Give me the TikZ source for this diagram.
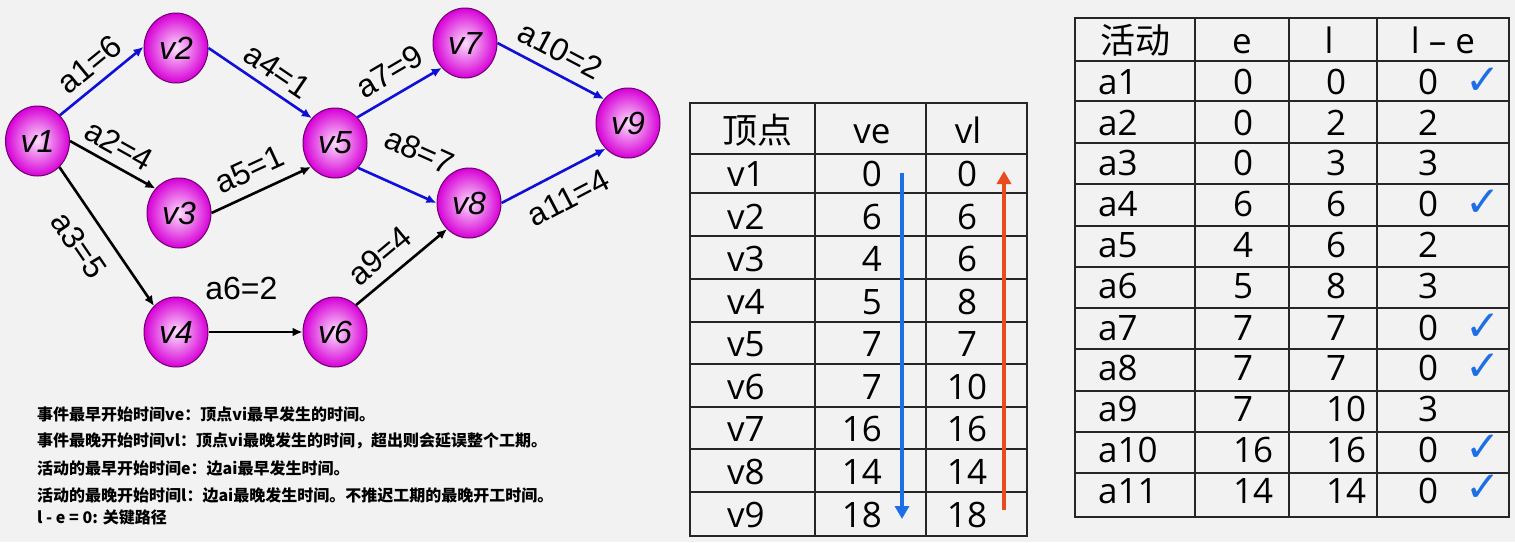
\documentclass[tikz,border=0pt]{standalone}
\usepackage{fontspec}
\setmainfont{Liberation Sans}
\newfontfamily\cjk{Noto Sans CJK SC}
\newfontfamily\tabfont{Open Sans}
\newfontfamily\symfont{DejaVu Sans}
\usetikzlibrary{arrows,arrows.meta,shapes}
\definecolor{paper}{HTML}{F2F2F2}
\definecolor{keyblue}{RGB}{15,15,215}
\definecolor{ballin}{RGB}{252,222,252}
\definecolor{ballout}{RGB}{215,0,215}
\definecolor{ballrim}{RGB}{110,0,110}
\definecolor{downblue}{RGB}{30,110,230}
\definecolor{upred}{RGB}{232,75,30}
\tikzstyle{vertex}=[ellipse,minimum width=64pt,minimum height=70pt,inner sep=0pt,draw=ballrim,line width=1pt,shading=radial,inner color=ballin,outer color=ballout,font=\fontsize{32}{32}\selectfont\itshape]
\tikzstyle{edge} = [draw,line width=2.6pt,-{Latex[length=10pt,width=9pt]},black]
\tikzstyle{critical edge} = [edge,keyblue]
\tikzstyle{weight} = [sloped,inner sep=0pt,text=black,font=\fontsize{32}{32}\selectfont]
\tikzstyle{note} = [anchor=west,inner sep=0pt,font=\cjk\bfseries\fontsize{16}{16}\selectfont]
\tikzstyle{rule} = [draw=black!85,line width=1.8pt,line cap=rect]
\tikzstyle{cell} = [inner sep=0pt,font=\tabfont\fontsize{35}{35}\selectfont]
\tikzstyle{check} = [inner sep=0pt,text=downblue,font=\symfont\fontsize{42}{42}\selectfont]
\tikzstyle{sweep} = [line width=3.8pt,-{Triangle[length=13pt,width=14pt]}]

\begin{document}
\begin{tikzpicture}[x=1pt,y=-1pt]
    \fill[paper] (0,0) rectangle (1515,542);
    \useasboundingbox (0,0) rectangle (1515,542);

    % event network
    \foreach \pos/\name in {{(37.5,141)/v1}, {(176,48)/v2}, {(179,213)/v3},
                            {(176,332)/v4}, {(335,143)/v5}, {(335,332)/v6},
                            {(465,43)/v7}, {(469,203)/v8}, {(628,123)/v9}}
        \node[vertex] (\name) at \pos {\name};

    \foreach \source/\dest/\kind/\pos/\side/\dist/\weight in {
            v1.49/v2.178/critical edge/0.51/above/8/a1=6,
            v2.east/v5.133/critical edge/0.56/above/7/a4=1,
            v1.east/v3.134/edge/0.46/above/7.5/a2=4,
            v1.-50/v4.130/edge/0.45/below/15/a3=5,
            v3.east/v5.225/edge/0.48/above/11/a5=1,
            v4.east/v6.west/edge/0.35/above/31/a6=2,
            v5.49/v7.227/critical edge/0.52/above/10.5/a7=9,
            v5.313/v8.west/critical edge/0.57/above/28/a8=7,
            v6.52/v8.230/edge/0.42/above/10/a9=4,
            v7.east/v9.135/critical edge/0.49/above/10/a10=2,
            v8.east/v9.229/critical edge/0.525/below/14/a11=4}
        \path[\kind] (\source) -- node[weight,pos=\pos,\side=\dist pt] {\weight} (\dest);

    % definitions
    \node[note] (note1) at (37,414) {事件最早开始时间ve：顶点vi最早发生的时间。};
    \node[note] (note2) at (37,441) {事件最晚开始时间vl：顶点vi最晚发生的时间，超出则会延误整个工期。};
    \node[note] (note3) at (37,468) {活动的最早开始时间e：边ai最早发生时间。};
    \node[note] (note4) at (37,495) {活动的最晚开始时间l：边ai最晚发生时间。不推迟工期的最晚开工时间。};
    \node[note] (note5) at (37,517) {l - e = 0: 关键路径};

    % vertex table
    \foreach \x in {690,815,926,1027}
        \path[rule] (\x,103) -- (\x,536);
    \foreach \y in {103,154,193,236,279,322,364,407,449,492,536}
        \path[rule] (690,\y) -- (1027,\y);
    \node[cell,anchor=base] (head v) at (757,143) {\cjk 顶点};
    \node[cell,anchor=base] (head ve) at (872,143) {ve};
    \node[cell,anchor=base] (head vl) at (968,143) {vl};
    \foreach \name/\early/\late/\y in {v1/0/0/186, v2/6/6/229, v3/4/6/271,
                                      v4/5/8/314, v5/7/7/356, v6/7/10/399,
                                      v7/16/16/441, v8/14/14/484, v9/18/18/527}
    {
        \node[cell,anchor=base west] (row \name) at (727,\y) {\name};
        \node[cell,anchor=base east] (ve \name) at (882,\y) {\early};
        \node[cell,anchor=base] (vl \name) at (967,\y) {\late};
    }
    \coordinate (ve top) at (902,173);
    \coordinate (ve bottom) at (902,519);
    \coordinate (vl bottom) at (1004,510);
    \coordinate (vl top) at (1004,171);
    \draw[sweep,downblue] (ve top) -- (ve bottom);
    \draw[sweep,upred] (vl bottom) -- (vl top);

    % activity table
    \foreach \x in {1075,1195,1289,1377,1509}
        \path[rule] (\x,18) -- (\x,517);
    \foreach \y in {18,61,101,143,184,226,267,308,349,391,432,473,517}
        \path[rule] (1075,\y) -- (1509,\y);
    \node[cell,anchor=base west] (head a) at (1100,53) {\cjk 活动};
    \node[cell,anchor=base] (head e) at (1242,53) {e};
    \node[cell,anchor=base] (head l) at (1329,53) {l};
    \node[cell,anchor=base] (head le) at (1443,53) {l – e};
    \foreach \name/\early/\late/\slack/\y in {a1/0/0/0/94, a2/0/2/2/135, a3/0/3/3/175,
                                             a4/6/6/0/216, a5/4/6/2/257, a6/5/8/3/298,
                                             a7/7/7/0/340, a8/7/7/0/380, a9/7/10/3/421,
                                             a10/16/16/0/462, a11/14/14/0/503}
    {
        \node[cell,anchor=base west] (row \name) at (1098,\y) {\name};
        \node[cell,anchor=base west] (e \name) at (1233,\y) {\early};
        \node[cell,anchor=base west] (l \name) at (1326,\y) {\late};
        \node[cell,anchor=base west] (d \name) at (1418,\y) {\slack};
    }
    \foreach \name/\y in {a1/81, a4/203, a7/327, a8/367, a10/448, a11/488}
        \node[check] (ok \name) at (1483,\y) {✓};

\end{tikzpicture}
\end{document}
